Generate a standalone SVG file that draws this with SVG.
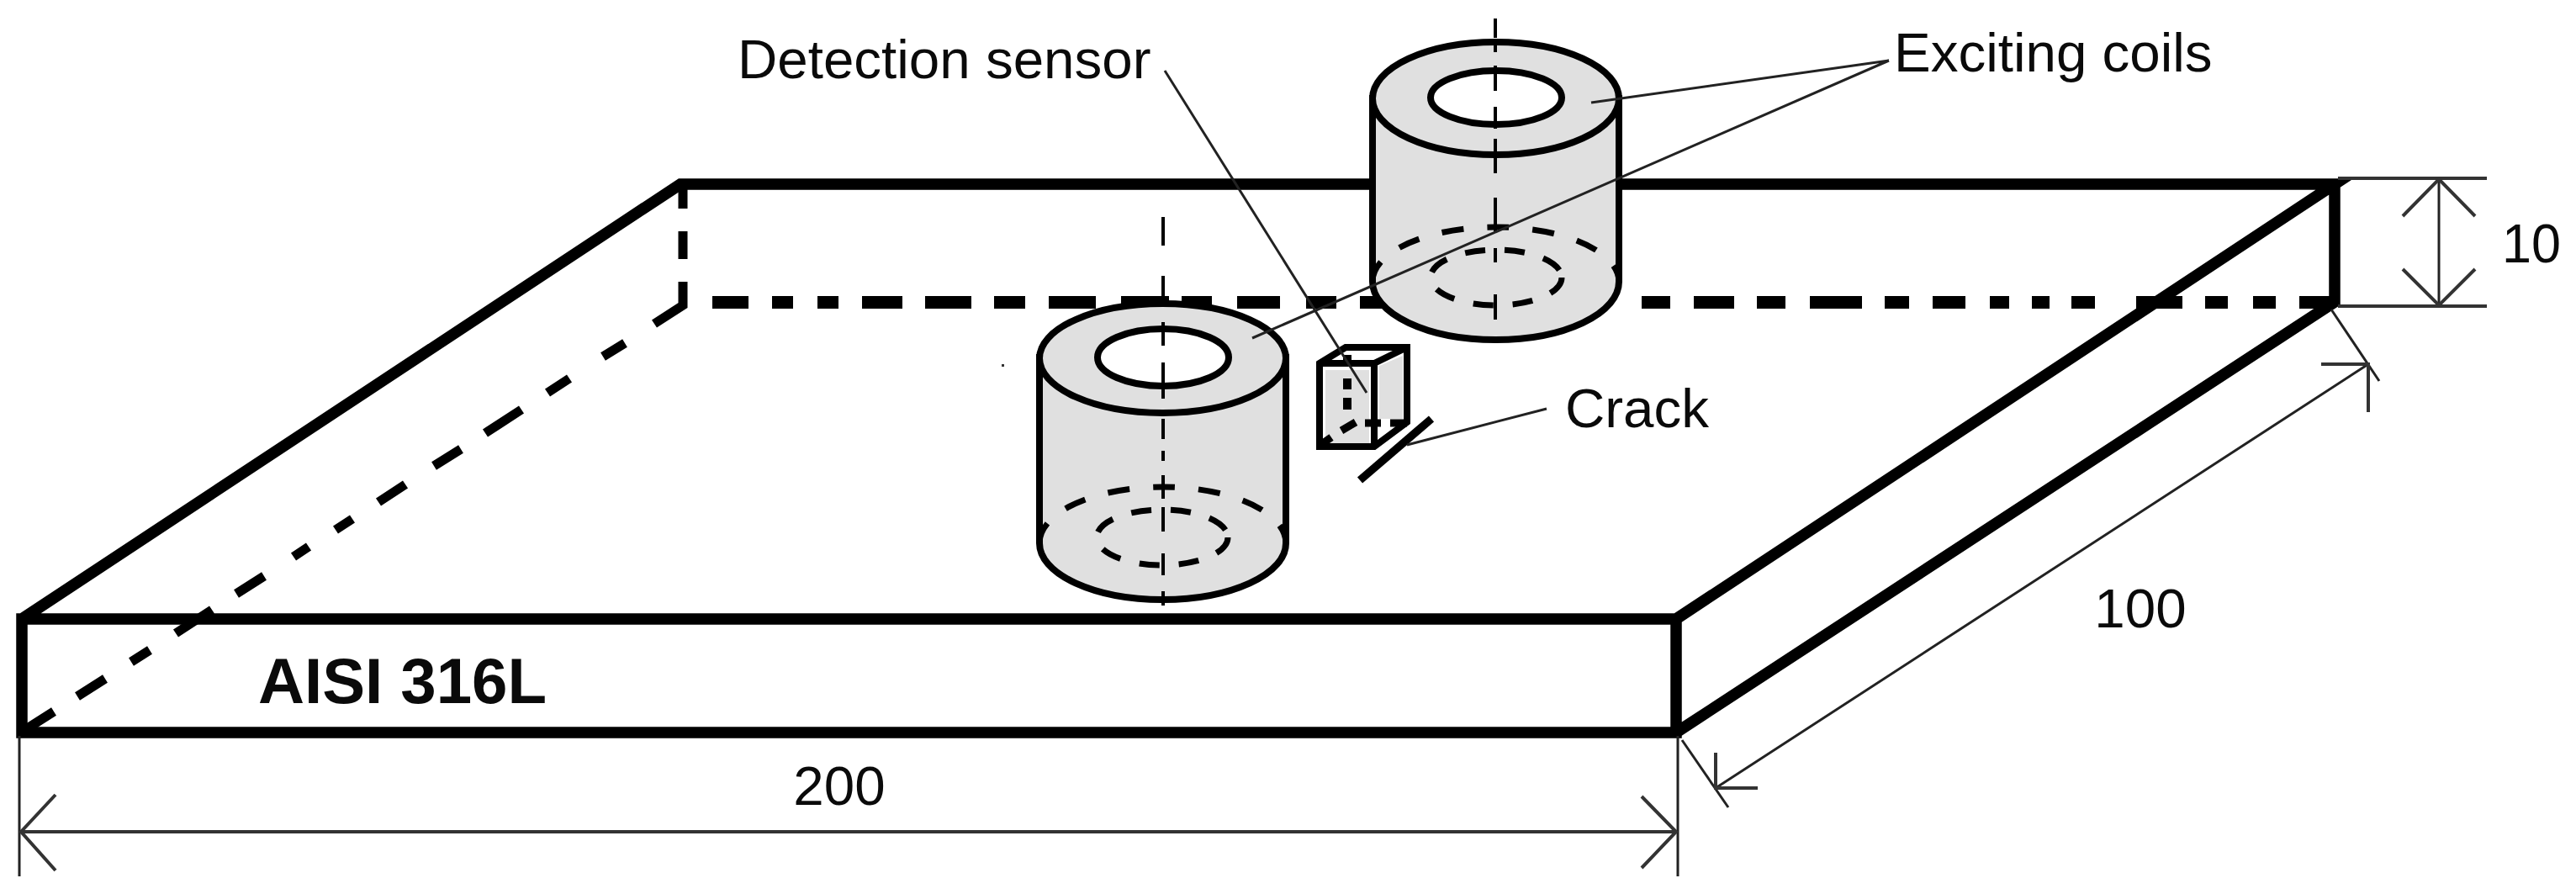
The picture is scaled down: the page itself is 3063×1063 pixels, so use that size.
<svg xmlns="http://www.w3.org/2000/svg" width="3063" height="1063" viewBox="0 0 3063 1063">
<style>
text{font-family:"Liberation Sans",Arial,sans-serif;font-size:65.5px;fill:#0a0a0a}
.b{fill:none;stroke:#000;stroke-width:13.5}
.d{fill:none;stroke:#000;stroke-width:15}
.s{fill:none;stroke:#000;stroke-width:11}
.t{fill:none;stroke:#222;stroke-width:3}
.m{fill:none;stroke:#333;stroke-width:4}
.c{fill:none;stroke:#000;stroke-width:4}
.e{fill:#e0e0e0;stroke:#000;stroke-width:8}
.h{fill:#fff;stroke:#000;stroke-width:8}
.o{fill:none;stroke:#000;stroke-width:7}
</style>
<g id="plate">
<path class="d" d="M847 359.500H890M918 359.500H943M972 359.500H997M1025 359.500H1073M1100 359.500H1155M1182 359.500H1219M1247 359.500H1303M1333 359.500H1390M1405 359.500H1441M1471 359.500H1522M1553 359.500H1589M1617 359.500H1660M1952 359.500H1986M2014 359.500H2062M2089 359.500H2123M2152 359.500H2214M2241 359.500H2270M2298 359.500H2337M2366 359.500H2389M2416 359.500H2437M2463 359.500H2491M2540 359.500H2595M2622 359.500H2649M2679 359.500H2706M2734 359.500H2776"/>
<path class="s" d="M812 225V248M812 275V308M812 335V363L778 385M743 408L717 424M677 450L651 467M620 487L577 515M548 534L516 554M482 576L450 597M419 617L399 630M367 650L349 662M314 685L281 706M252 725L209 753M178 773L156 787M125 807L92 828M64 846L31 867"/>
<path class="b" d="M26 736L809 219H2776L1993 736M2776 219V359L1993 871M26 736H1993V871H26Z"/>
</g>
<g id="coil-upper">
<path class="e" d="M1632 117V335A146.500 69 0 0 0 1925 335V117Z"/>
<ellipse class="e" cx="1778.500" cy="117" rx="146.500" ry="67"/>
<ellipse class="h" cx="1779" cy="116" rx="78" ry="32"/>
<path class="o" stroke-dasharray="26 28" d="M1632 335A146.500 65 0 0 1 1925 335"/>
<ellipse class="o" stroke-dasharray="24 23" cx="1779" cy="330" rx="78" ry="33"/>
<path class="c" d="M1778 22V45M1778 50V62M1778 78V108M1778 127V153M1778 165V206M1778 235V275M1778 295V312M1778 350V380"/>
</g>
<g id="coil-lower">
<path class="e" d="M1236 425V646A146.500 67 0 0 0 1529 646V425Z"/>
<ellipse class="e" cx="1382.500" cy="426" rx="146.500" ry="65"/>
<ellipse class="h" cx="1383" cy="425" rx="78" ry="34"/>
<path class="o" stroke-dasharray="26 28" d="M1236 646A146.500 67 0 0 1 1529 646"/>
<ellipse class="o" stroke-dasharray="24 23" cx="1382" cy="639" rx="78" ry="33"/>
<path class="c" d="M1383 258V292M1383 328V364M1383 383V411M1383 431V474M1383 498V522M1383 536V548M1383 565V593M1383 603V632M1383 658V684M1383 703V720"/>
<rect x="1191" y="433" width="3" height="3" fill="#333"/>
</g>
<g id="sensor">
<path d="M1576 440H1628V527H1576ZM1640 435L1668 423V498H1640Z" fill="#e0e0e0" stroke="none"/>
<path d="M1569 432L1600 413H1673V502L1634 531H1569ZM1569 432H1634V531M1634 432L1673 413" fill="none" stroke="#000" stroke-width="8"/>
<path d="M1602 422V433M1602 450V463M1602 473V487" fill="none" stroke="#000" stroke-width="10"/>
<path d="M1595 512L1612 502M1623 503H1642M1653 503H1673M1573 527L1583 520" fill="none" stroke="#000" stroke-width="9"/>
</g>
<g id="crack">
<path d="M1702 498L1617 571" fill="none" stroke="#000" stroke-width="9.500"/>
</g>
<g id="connectors">
<path class="t" d="M1385 84L1625 467M2246 72L1892 122M2246 72L1489 402M1839 486L1673 529"/>
<path class="m" d="M2780 212H2957M2780 364H2957"/>
<path class="t" d="M2900 212V364"/>
<path class="m" d="M2857 257L2900 213L2943 257M2857 320L2900 363L2943 320"/>
<path class="t" d="M23 875V1042M1995 875V1042"/>
<path class="m" d="M25 989H1993M66 945L25 989L66 1035M1952 947L1993 989L1952 1032"/>
<path class="t" d="M2772 368L2829 453M2040 937L2816 433"/>
<path class="m" d="M2760 433H2816V490"/>
<path class="t" d="M2000 880L2055 960"/>
<path class="m" d="M2040 895V937H2090"/>
</g>
<g id="labels">
<text x="877" y="93">Detection sensor</text>
<text x="2252" y="85">Exciting coils</text>
<text x="1861" y="508">Crack</text>
<text x="307" y="836" style="font-weight:700;font-size:76px" textLength="343" lengthAdjust="spacingAndGlyphs">AISI 316L</text>
<text x="2975" y="312" textLength="70" lengthAdjust="spacingAndGlyphs">10</text>
<text x="998" y="957" text-anchor="middle">200</text>
<text x="2545" y="746" text-anchor="middle">100</text>
</g>
</svg>
